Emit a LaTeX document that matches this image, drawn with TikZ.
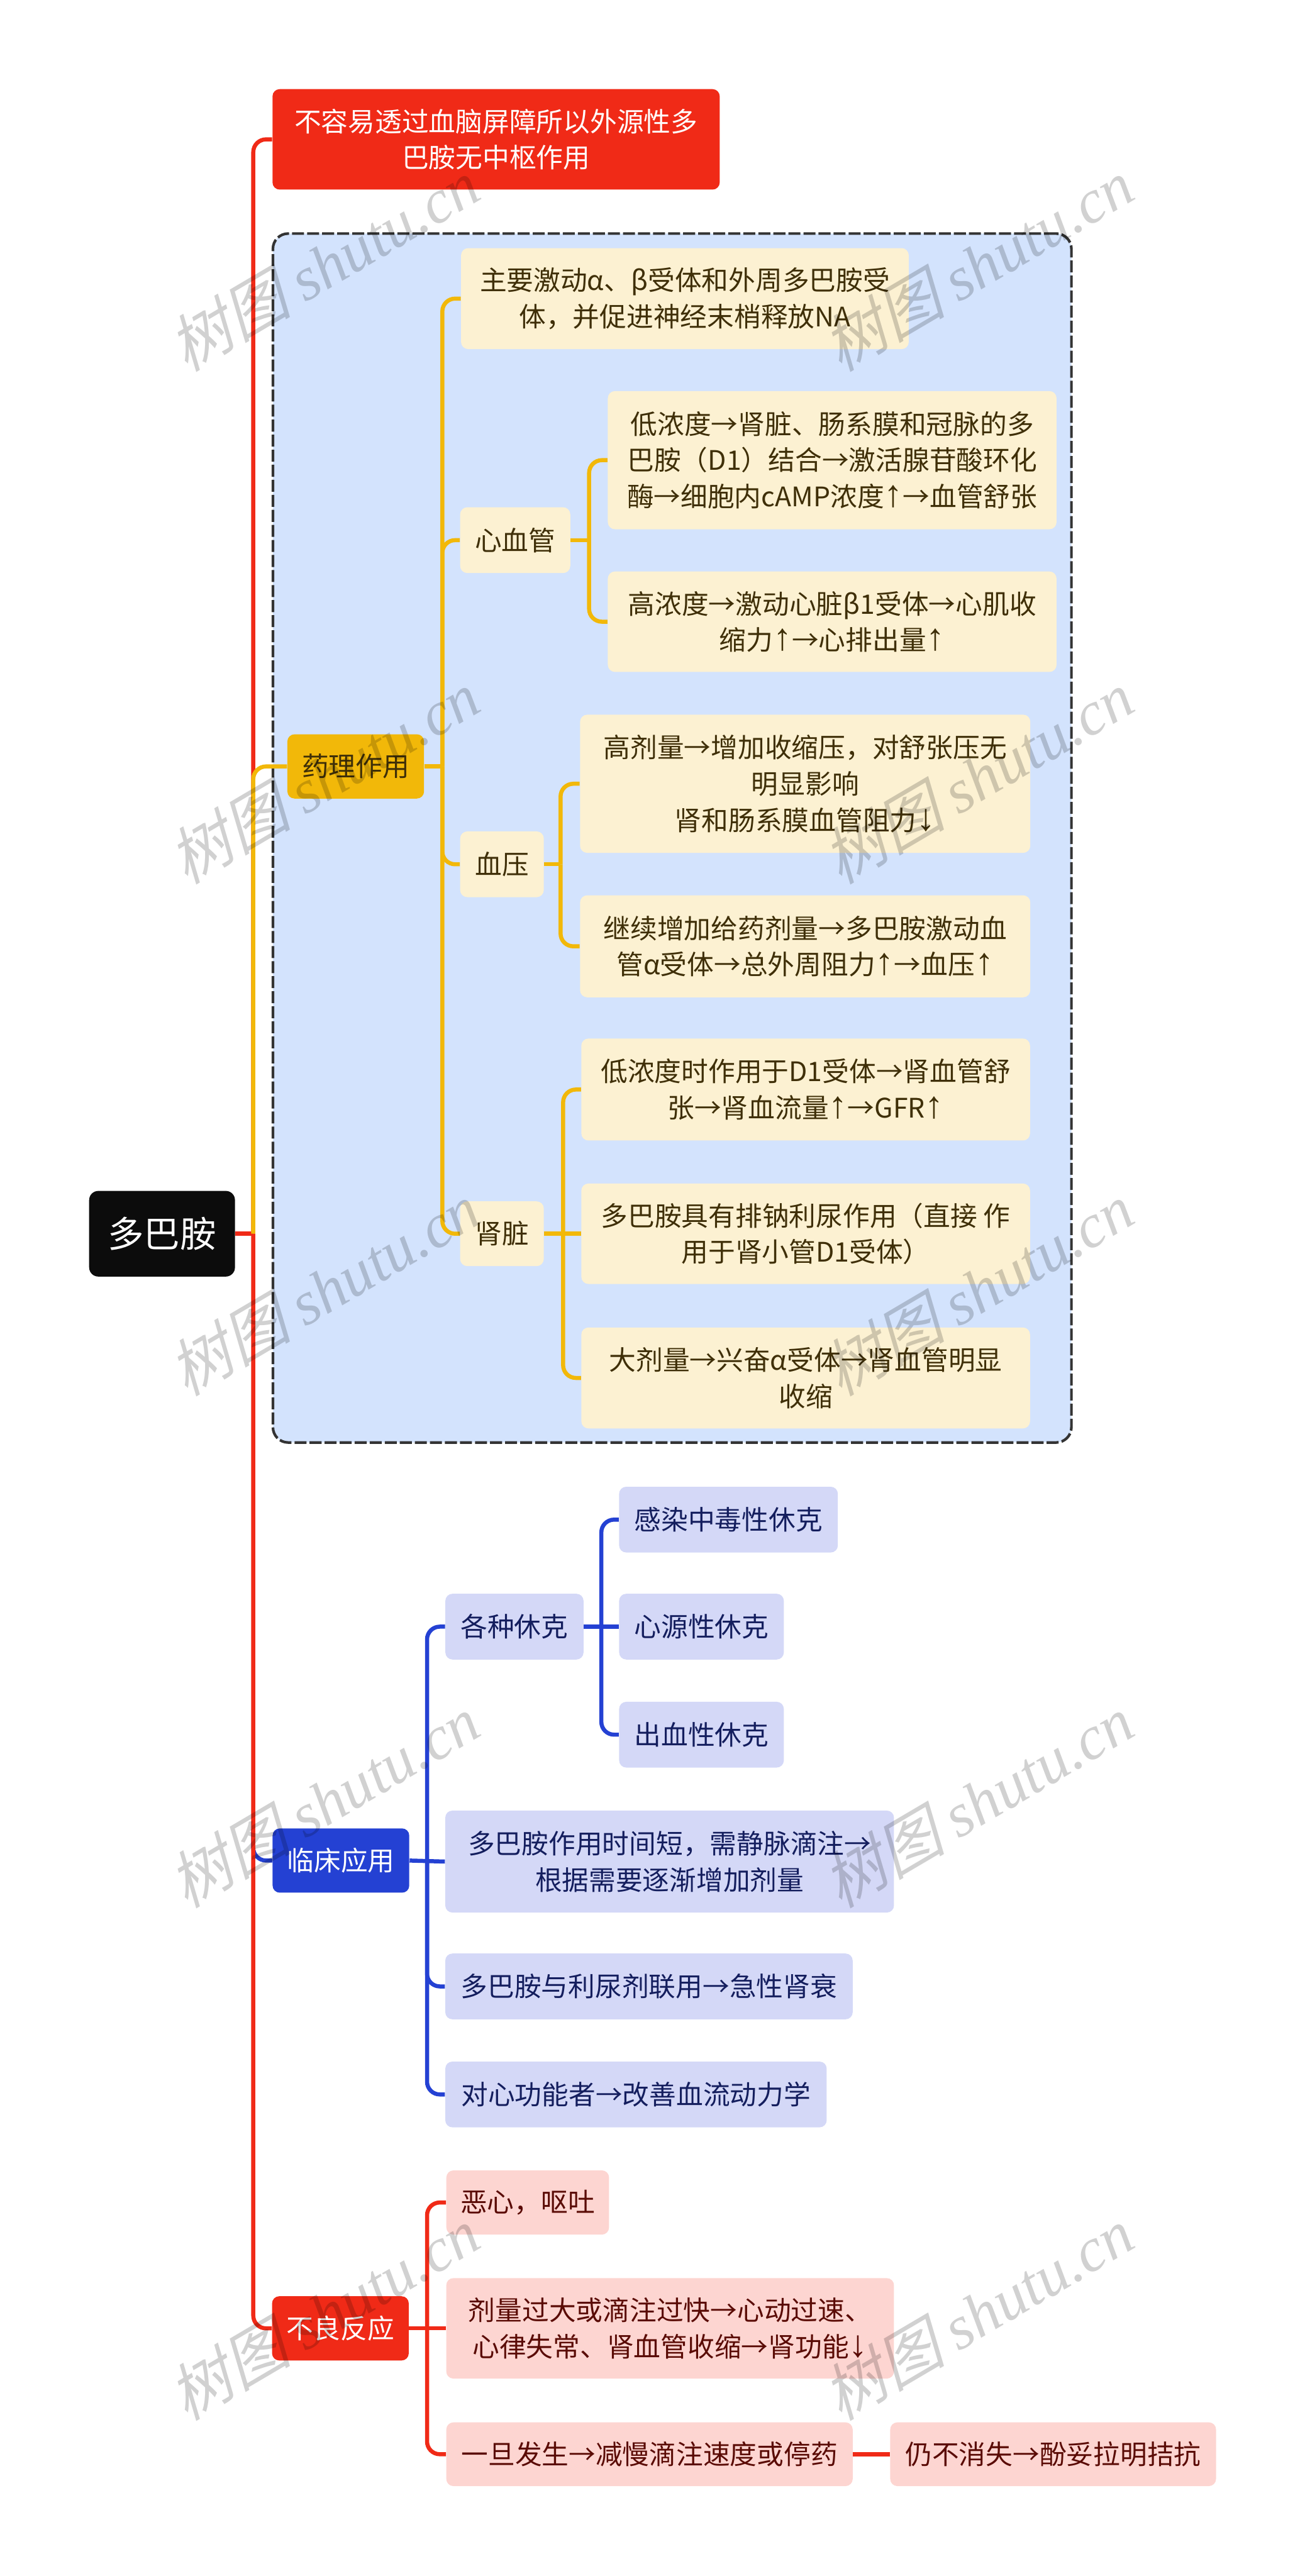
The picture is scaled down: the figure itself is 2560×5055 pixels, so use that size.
\documentclass[tikz,border=0pt]{standalone}
\usepackage{fontspec}
\setmainfont{Noto Sans CJK SC}
\newfontfamily\wmcjk[FakeSlant=0.25]{Noto Sans CJK SC}
\newfontfamily\wmlat{Liberation Serif}[ItalicFont=Liberation Serif Italic]
\newfontfamily\arrowfont[Scale=1.4]{Liberation Sans}
\newcommand{\upar}{{\arrowfont ↑}}
\newcommand{\downar}{{\arrowfont ↓}}
\newcommand{\wmtext}{{\wmcjk 树图} {\wmlat\itshape shutu.cn}}
\usepackage{xcolor}
\usetikzlibrary{positioning}
\definecolor{redmain}{HTML}{F02A17}
\definecolor{redpale}{HTML}{FDD5D1}
\definecolor{redtext}{HTML}{5A0B05}
\definecolor{goldmain}{HTML}{F2B809}
\definecolor{goldpale}{HTML}{FCF1D2}
\definecolor{goldtext}{HTML}{3F2F08}
\definecolor{bluemain}{HTML}{2441D3}
\definecolor{bluepale}{HTML}{D4D8F7}
\definecolor{bluetext}{HTML}{141E5E}
\definecolor{panelblue}{HTML}{D3E3FD}
\definecolor{rootblack}{HTML}{0C0C0C}

\begin{document}
\begin{tikzpicture}[
  x=0.01cm, y=-0.01cm,
  % Styles
  box/.style={rounded corners=0.14cm, inner sep=0pt, align=center,
              font=\fontsize{15pt}{20.2pt}\selectfont},
  root/.style={box, fill=rootblack, text=white, rounded corners=0.18cm,
               font=\fontsize{20.2pt}{24pt}\selectfont},
  redtop/.style={box, fill=redmain, text=white},
  goldtop/.style={box, fill=goldmain, text=goldtext},
  bluetop/.style={box, fill=bluemain, text=white},
  goldleaf/.style={box, fill=goldpale, text=goldtext},
  blueleaf/.style={box, fill=bluepale, text=bluetext},
  redleaf/.style={box, fill=redpale, text=redtext},
  link/.style={line width=0.08cm, rounded corners=0.25cm},
  redlink/.style={link, draw=redmain},
  goldlink/.style={link, draw=goldmain},
  bluelink/.style={link, draw=bluemain},
  wmark/.style={text=black, opacity=0.18, rotate=30.5,
                font=\fontsize{34.5pt}{36pt}\selectfont}
]
\useasboundingbox (0,0) rectangle (2560,5055);

% --- Dashed panel ---
\node[draw=black!80, fill=panelblue, line width=0.052cm, dash pattern=on 0.235cm off 0.06cm,
      rounded corners=0.3cm, minimum width=15.66cm, minimum height=23.71cm, inner sep=0pt]
      (panel) at (1319,1644.5) {};

% --- 1. Root and first level ---
\node[root, minimum width=2.86cm, minimum height=1.68cm] (dopamine) at (318,2421) {多巴胺};
\node[redtop, minimum width=8.77cm, minimum height=1.97cm] (nocentral) at (973.5,273.5)
  {不容易透过血脑屏障所以外源性多\\巴胺无中枢作用};
\node[goldtop, minimum width=2.68cm, minimum height=1.26cm] (pharma) at (698,1504) {药理作用};
\node[bluetop, minimum width=2.68cm, minimum height=1.26cm] (clinic) at (669,3651) {临床应用};
\node[redtop, minimum width=2.68cm, minimum height=1.26cm] (adverse) at (668,4569) {不良反应};

% --- 2. Pharmacology ---
\node[goldleaf, minimum width=8.78cm, minimum height=1.98cm] (receptor) at (1344,586)
  {主要激动α、β受体和外周多巴胺受\\体，并促进神经末梢释放NA};
\node[goldleaf, minimum width=2.16cm, minimum height=1.29cm] (heart) at (1011,1060) {心血管};
\node[goldleaf, minimum width=1.64cm, minimum height=1.29cm] (pressure) at (985,1696) {血压};
\node[goldleaf, minimum width=1.64cm, minimum height=1.27cm] (kidney) at (985,2421) {肾脏};

\node[goldleaf, minimum width=8.80cm, minimum height=2.71cm] (lowdose) at (1633,903)
  {低浓度→肾脏、肠系膜和冠脉的多\\巴胺（D1）结合→激活腺苷酸环化\\酶→细胞内cAMP浓度\upar→血管舒张};
\node[goldleaf, minimum width=8.80cm, minimum height=1.97cm] (highdose) at (1633,1220)
  {高浓度→激动心脏β1受体→心肌收\\缩力\upar→心排出量\upar};

\node[goldleaf, minimum width=8.83cm, minimum height=2.71cm] (sbp) at (1580,1538)
  {高剂量→增加收缩压，对舒张压无\\明显影响\\肾和肠系膜血管阻力\downar};
\node[goldleaf, minimum width=8.83cm, minimum height=2.00cm] (tpr) at (1580,1857)
  {继续增加给药剂量→多巴胺激动血\\管α受体→总外周阻力\upar→血压\upar};

\node[goldleaf, minimum width=8.80cm, minimum height=2.00cm] (renal) at (1581,2138)
  {低浓度时作用于D1受体→肾血管舒\\张→肾血流量\upar→GFR\upar};
\node[goldleaf, minimum width=8.80cm, minimum height=1.97cm] (natri) at (1581,2421)
  {多巴胺具有排钠利尿作用（直接 作\\用于肾小管D1受体）};
\node[goldleaf, minimum width=8.80cm, minimum height=1.98cm] (constrict) at (1581,2704)
  {大剂量→兴奋α受体→肾血管明显\\收缩};

% --- 3. Clinical use ---
\node[blueleaf, minimum width=2.71cm, minimum height=1.29cm] (shock) at (1009.5,3192) {各种休克};
\node[blueleaf, minimum width=4.29cm, minimum height=1.29cm] (septic) at (1429.5,2982) {感染中毒性休克};
\node[blueleaf, minimum width=3.23cm, minimum height=1.29cm] (cardiac) at (1376.5,3192) {心源性休克};
\node[blueleaf, minimum width=3.23cm, minimum height=1.29cm] (bleeding) at (1376.5,3404) {出血性休克};
\node[blueleaf, minimum width=8.80cm, minimum height=2.00cm] (infusion) at (1314,3653)
  {多巴胺作用时间短，需静脉滴注→\\根据需要逐渐增加剂量};
\node[blueleaf, minimum width=7.99cm, minimum height=1.29cm] (diuretic) at (1273.5,3898) {多巴胺与利尿剂联用→急性肾衰};
\node[blueleaf, minimum width=7.48cm, minimum height=1.29cm] (hemo) at (1248,4110) {对心功能者→改善血流动力学};

% --- 4. Adverse reactions ---
\node[redleaf, minimum width=3.19cm, minimum height=1.26cm] (nausea) at (1035.5,4322) {恶心，呕吐};
\node[redleaf, minimum width=8.78cm, minimum height=1.97cm] (overdose) at (1315,4569)
  {剂量过大或滴注过快→心动过速、\\心律失常、肾血管收缩→肾功能\downar};
\node[redleaf, minimum width=7.97cm, minimum height=1.25cm] (slowdown) at (1274.5,4816) {一旦发生→减慢滴注速度或停药};
\node[redleaf, minimum width=6.39cm, minimum height=1.25cm] (phentol) at (2066.5,4816) {仍不消失→酚妥拉明拮抗};

% --- 5. Connectors ---
\coordinate (hub) at (497,2421);
\coordinate (clinicknee) at (497,3590);

% first level: blue under red, gold over red
\draw[bluelink] (clinicknee) |- (clinic.west);
\draw[redlink] (dopamine.east) -- (hub);
\draw[redlink] (hub) |- (nocentral.west);
\draw[redlink] (hub) |- (adverse.west);
\draw[goldlink] (hub) |- (pharma.west);

% pharmacology
\coordinate (goldhub) at (868,1504);
\draw[goldlink] (pharma.east) -- (goldhub);
\draw[goldlink] (goldhub) |- (receptor.west);
\draw[goldlink] (goldhub) |- (heart.west);
\draw[goldlink] (goldhub) |- (pressure.west);
\draw[goldlink] (goldhub) |- (kidney.west);

\coordinate (hearthub) at (1156,1060);
\draw[goldlink] (heart.east) -- (hearthub);
\draw[goldlink] (hearthub) |- (lowdose.west);
\draw[goldlink] (hearthub) |- (highdose.west);

\coordinate (pressurehub) at (1100,1696);
\draw[goldlink] (pressure.east) -- (pressurehub);
\draw[goldlink] (pressurehub) |- (sbp.west);
\draw[goldlink] (pressurehub) |- (tpr.west);

\coordinate (kidneyhub) at (1105,2421);
\draw[goldlink] (kidney.east) -- (natri.west);
\draw[goldlink] (kidneyhub) |- (renal.west);
\draw[goldlink] (kidneyhub) |- (constrict.west);

% clinical use
\coordinate (bluehub) at (838,3651);
\draw[bluelink] (clinic.east) -- (infusion.west);
\draw[bluelink] (bluehub) |- (shock.west);
\draw[bluelink] (bluehub) |- (diuretic.west);
\draw[bluelink] (bluehub) |- (hemo.west);

\coordinate (shockhub) at (1180,3192);
\draw[bluelink] (shock.east) -- (cardiac.west);
\draw[bluelink] (shockhub) |- (septic.west);
\draw[bluelink] (shockhub) |- (bleeding.west);

% adverse reactions
\coordinate (adversehub) at (838,4569);
\draw[redlink] (adverse.east) -- (overdose.west);
\draw[redlink] (adversehub) |- (nausea.west);
\draw[redlink] (adversehub) |- (slowdown.west);
\draw[redlink] (slowdown.east) -- (phentol.west);

% --- Watermarks ---
\node[wmark] (wm1) at (635,520) {\wmtext};
\node[wmark] (wm2) at (1918,520) {\wmtext};
\node[wmark] (wm3) at (635,1525) {\wmtext};
\node[wmark] (wm4) at (1918,1525) {\wmtext};
\node[wmark] (wm5) at (635,2530) {\wmtext};
\node[wmark] (wm6) at (1918,2530) {\wmtext};
\node[wmark] (wm7) at (635,3535) {\wmtext};
\node[wmark] (wm8) at (1918,3535) {\wmtext};
\node[wmark] (wm9) at (635,4540) {\wmtext};
\node[wmark] (wm10) at (1918,4540) {\wmtext};
\end{tikzpicture}
\end{document}
